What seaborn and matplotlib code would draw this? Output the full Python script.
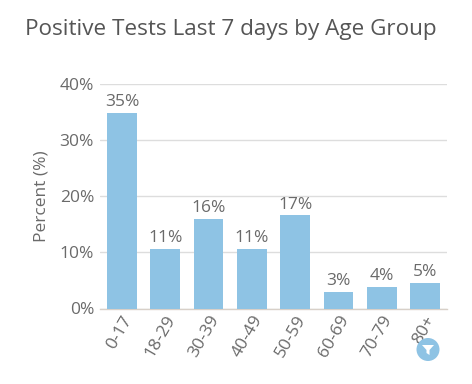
import matplotlib
matplotlib.use("Agg")
import matplotlib.pyplot as plt
from matplotlib.patches import Circle, Polygon
import pandas as pd
import seaborn as sns

ages = ["0-17", "18-29", "30-39", "40-49", "50-59", "60-69", "70-79", "80+"]
percent = [34.8, 10.6, 15.9, 10.6, 16.6, 3.0, 3.8, 4.5]
bar_labels = ["35%", "11%", "16%", "11%", "17%", "3%", "4%", "5%"]
y_ticks = [0, 10, 20, 30, 40]
y_tick_labels = ["0%", "10%", "20%", "30%", "40%"]

sns.set_theme(style="white")
plt.rcParams["font.family"] = ["Open Sans", "DejaVu Sans"]

W, H = 472, 384
fig = plt.figure(figsize=(W / 100, H / 100), dpi=100)
ax = fig.add_axes([100.3 / W, 1 - 308.5 / H, 346.4 / W, 224.5 / H])

df = pd.DataFrame({"age": ages, "percent": percent})
sns.barplot(data=df, x="age", y="percent", color="#8ec3e4", saturation=1,
            width=0.69, linewidth=0, ax=ax, zorder=3)

text_c = "#6a6a6a"
ax.set_ylim(0, 40)
ax.set_yticks(y_ticks)
ax.set_yticklabels(y_tick_labels, fontsize=12.5, color=text_c)
ax.tick_params(axis="y", length=0, pad=4.5)
ax.tick_params(axis="x", length=0, pad=3)
ax.set_xticks(range(len(ages)))
ax.set_xticklabels(ages, rotation=60, ha="right", rotation_mode="anchor",
                   fontsize=12.5, color=text_c)
ax.set_xlabel("")
ax.set_ylabel("Percent (%)", fontsize=12.5, color=text_c, labelpad=7)
ax.grid(axis="y", color="#dddddd", linewidth=1, zorder=0)
ax.set_axisbelow(True)
for s in ["top", "right", "left"]:
    ax.spines[s].set_visible(False)
ax.spines["bottom"].set_color("#d8d0c8")
ax.spines["bottom"].set_linewidth(1)

for container in ax.containers:
    ax.bar_label(container, labels=bar_labels, fontsize=12.5, color=text_c,
                 padding=2)

fig.text(231 / W, 1 - 29 / H, "Positive Tests Last 7 days by Age Group",
         ha="center", va="center", fontsize=16.2, color="#555555")

# floating filter button
bg = fig.add_axes([0, 0, 1, 1], zorder=5)
bg.set_xlim(0, W)
bg.set_ylim(H, 0)
bg.axis("off")
bg.patch.set_alpha(0)
bg.add_patch(Circle((428, 349.5), 11.5, color="#8ec3e4", lw=0))
bg.add_patch(Polygon([(422, 345), (434, 345), (429.5, 350), (429.5, 355),
                      (426.5, 353), (426.5, 350)], color="white", lw=0))

fig.savefig("out.png", dpi=100)
